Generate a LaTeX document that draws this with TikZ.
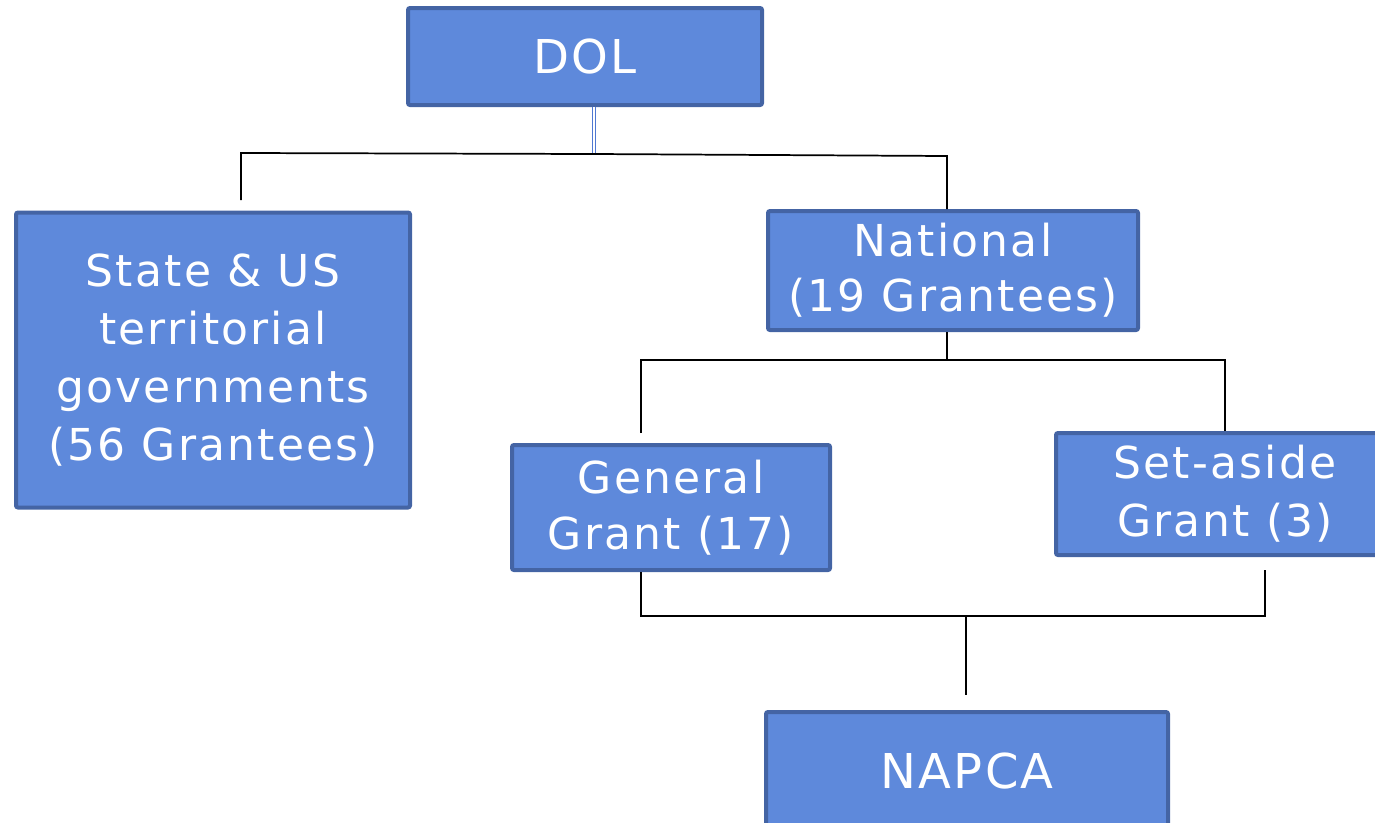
\documentclass[tikz,border=0pt]{standalone}
\usepackage{fontspec}
\setmainfont{DejaVu Sans}[LetterSpace=5]
\usetikzlibrary{positioning,calc}
\definecolor{boxfill}{RGB}{94,137,219}
\definecolor{boxline}{RGB}{68,100,164}
\definecolor{linkblue}{RGB}{80,120,210}

\begin{document}
\begin{tikzpicture}[x=0.75pt,y=-0.75pt]
        \tikzstyle{every node}=[font=\fontsize{33}{43.5}\selectfont,text=white,align=center]
        \tikzstyle{unit}=[draw=boxline,fill=boxfill,line width=3pt,rounded corners=1.5pt,inner sep=0pt]
        \tikzstyle{link}=[line width=1.3pt,black]
        \clip (0,0) rectangle (1375,822);
        \useasboundingbox (0,0) rectangle (1375,822);

        %%% Boxes
        \node[unit,minimum width=265.5pt,minimum height=72.75pt,font=\fontsize{35}{42}\selectfont] (dol) at (585,56.5) {DOL};
        \node[unit,minimum width=295.5pt,minimum height=221.25pt] (state) at (213,360) {State \& US\\territorial\\governments\\(56 Grantees)};
        \node[unit,minimum width=277.5pt,minimum height=89.25pt,font=\fontsize{33}{41.25}\selectfont] (national) at (953,270.5) {National\\(19 Grantees)};
        \node[unit,minimum width=238.5pt,minimum height=93.75pt,font=\fontsize{33}{42}\selectfont] (general) at (671,507.5) {General\\Grant (17)};
        \node[unit,minimum width=253.5pt,minimum height=91.5pt,font=\fontsize{33}{43.5}\selectfont] (setaside) at (1225,494) {Set-aside\\Grant (3)};
        \node[unit,minimum width=301.5pt,minimum height=88.5pt,font=\fontsize{36}{42}\selectfont] (napca) at (967,771) {NAPCA};

        %%% Junctions
        \coordinate (dolj) at (594,154);
        \coordinate (statej) at (241,153);
        \coordinate (statetop) at (241,200);
        \coordinate (natj) at (947,156);
        \coordinate (natbus) at (947,360);
        \coordinate (genbus) at (641,360);
        \coordinate (genend) at (641,433);
        \coordinate (setbus) at (1225,360);
        \coordinate (genlow) at (641,616);
        \coordinate (setlow) at (1265,616);
        \coordinate (setlowtop) at (1265,570);
        \coordinate (napbus) at (966,616);
        \coordinate (napend) at (966,695);

        %%% Links
        \draw[draw=linkblue,double=white,double distance=1.3pt,line width=0.6pt] (dolj |- dol.south) -- (dolj);
        \draw[link] (statetop) -- (statej) -- (dolj) -- (natj) -- (natj |- national.north);
        \draw[link] (natj |- national.south) -- (natbus);
        \draw[link] (genend) -- (genbus) -- (setbus) -- (setbus |- setaside.north);
        \draw[link] (genlow |- general.south) -- (genlow) -- (setlow) -- (setlowtop);
        \draw[link] (napbus) -- (napend);
\end{tikzpicture}
\end{document}
